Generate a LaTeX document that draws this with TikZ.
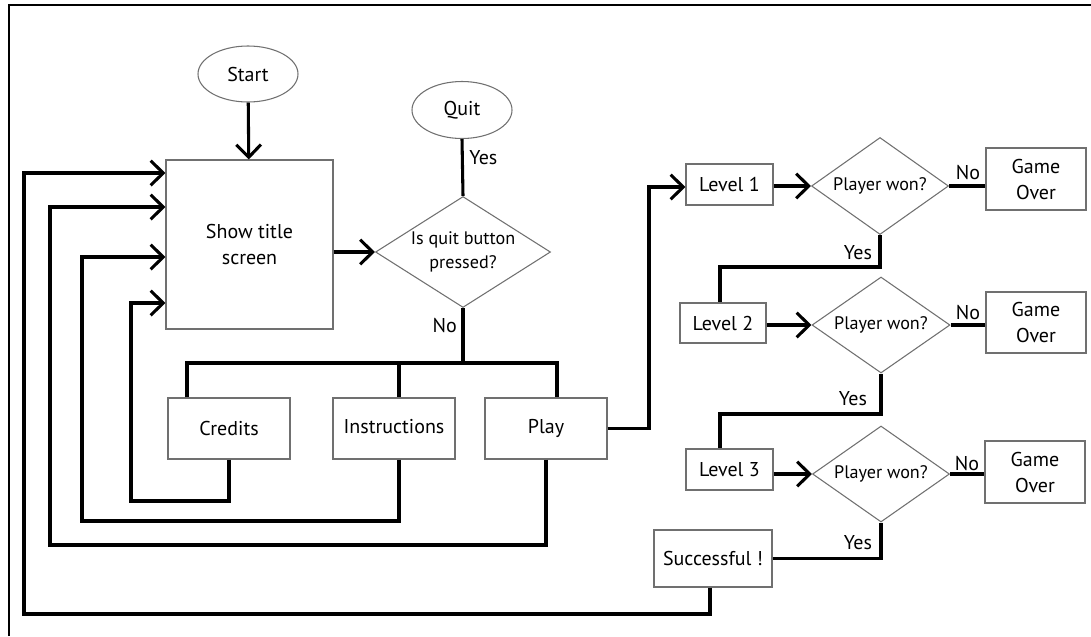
\documentclass[tikz,border=0pt]{standalone}
\usepackage{fontspec}
\setmainfont{PT Sans}
\usetikzlibrary{shapes.geometric,arrows.meta}
\definecolor{boxgray}{HTML}{707070}
\begin{document}
\begin{tikzpicture}[x=0.75pt,y=-0.75pt,
  txt/.style={font=\fontsize{15}{19.5}\selectfont},
  smalltxt/.style={font=\fontsize{13.6}{17.5}\selectfont},
  box/.style={draw=boxgray, line width=0.8pt, rectangle, inner sep=0pt, align=center, txt},
  term/.style={draw=boxgray, line width=0.8pt, ellipse, inner sep=0pt, txt},
  dec/.style={draw=boxgray, line width=0.8pt, diamond, inner sep=0pt, align=center, smalltxt},
  conn/.style={line width=2.3pt, black},
  arr/.style={conn, -{Straight Barb[length=9.5pt,width=18.5pt]}},
  lbl/.style={inner sep=0pt, txt},
  frame/.style={line width=2.2pt, black}
]
\useasboundingbox (0,0) rectangle (1091,636);
\draw[frame] (9,636) -- (9,5) -- (1091,5);

% nodes
\node[term, minimum width=75pt, minimum height=42pt] (start) at (248,74) {Start};
\node[term, minimum width=75pt, minimum height=42.75pt] (quit) at (462,110) {Quit};
\node[box, minimum width=125.25pt, minimum height=126.75pt] (show) at (249.5,244.5) {Show title\\screen};
\node[dec, shape aspect=1.58, minimum width=131.25pt, minimum height=83.25pt] (q) at (463,252) {Is quit button\\pressed?};
\node[box, minimum width=91.5pt, minimum height=45.75pt] (credits) at (229,428.5) {Credits};
\node[box, minimum width=91.5pt, minimum height=45.75pt] (instr) at (394,428.5) {\raisebox{3pt}{Instructions}};
\node[box, minimum width=91.5pt, minimum height=45.75pt] (play) at (546,428.5) {Play};

\node[box, minimum width=65.25pt, minimum height=30.75pt] (l1) at (729.5,184.5) {Level 1};
\node[dec, shape aspect=1.41, minimum width=102.75pt, minimum height=72.75pt] (d1) at (880,186) {Player won?};
\node[box, minimum width=75pt, minimum height=46.5pt] (go1) at (1036,179) {Game\\Over};

\node[box, minimum width=64.5pt, minimum height=30pt] (l2) at (723,323) {Level 2};
\node[dec, shape aspect=1.41, minimum width=103.5pt, minimum height=72pt] (d2) at (881,325) {Player won?};
\node[box, minimum width=75pt, minimum height=45.75pt] (go2) at (1036,322.5) {Game\\Over};

\node[box, minimum width=65.25pt, minimum height=30.75pt] (l3) at (729.5,469.5) {Level 3};
\node[dec, shape aspect=1.41, minimum width=102.75pt, minimum height=72pt] (d3) at (881,474) {Player won?};
\node[box, minimum width=75pt, minimum height=46.5pt] (go3) at (1035,472) {Game\\Over};

\node[box, minimum width=88.5pt, minimum height=42.75pt] (succ) at (713,558.5) {Successful !};

% labels
\node[lbl, anchor=west] (yq) at (469,158) {Yes};
\node[lbl, anchor=east] (nq) at (457,326) {No};
\node[lbl] (n1) at (968,173) {No};
\node[lbl] (y1) at (858,253) {Yes};
\node[lbl] (n2) at (968,313) {No};
\node[lbl] (y2) at (853,399) {Yes};
\node[lbl] (n3) at (967,463) {No};
\node[lbl] (y3) at (858,543) {Yes};

% coordinates
\coordinate (b1) at (187,363);
\coordinate (b2) at (399,363);
\coordinate (b3) at (557,363);

% connectors
\draw[arr] (start) -- (show);
\draw[arr] (show.east |- q.west) -- (q.west);
\draw[conn] (q.north) -- (quit.south);
\draw[conn] (q.south) -- (q.south |- b1);
\draw[conn] (b1 |- credits.north) -- (b1) -- (b3) -- (b3 |- play.north);
\draw[conn] (b2) -- (b2 |- instr.north);

\draw[arr] (credits.south) |- (131,501) |- (show.west |- 0,303);
\draw[arr] (instr.south -| b2) |- (82,521) |- (show.west |- 0,257);
\draw[arr] (play.south) |- (50,545) |- (show.west |- 0,207);
\draw[arr] (succ.south -| 710,0) |- (24,614) |- (show.west |- 0,173);

\draw[arr] (play.east) -| (649,300) |- (l1.west |- 0,187);
\draw[arr] (l1.east |- d1.west) -- (d1.west);
\draw[conn] (d1.east) -- (d1.east -| go1.west);
\draw[conn] (d1.south) |- (720,267) -- (l2.north -| 720,0);
\draw[arr] (l2.east |- d2.west) -- (d2.west);
\draw[conn] (d2.east) -- (d2.east -| go2.west);
\draw[conn] (d2.south) |- (720,414) -- (l3.north -| 720,0);
\draw[arr] (l3.east |- d3.west) -- (d3.west);
\draw[conn] (d3.east) -- (d3.east -| go3.west);
\draw[conn] (d3.south) |- (succ.east);
\end{tikzpicture}
\end{document}
